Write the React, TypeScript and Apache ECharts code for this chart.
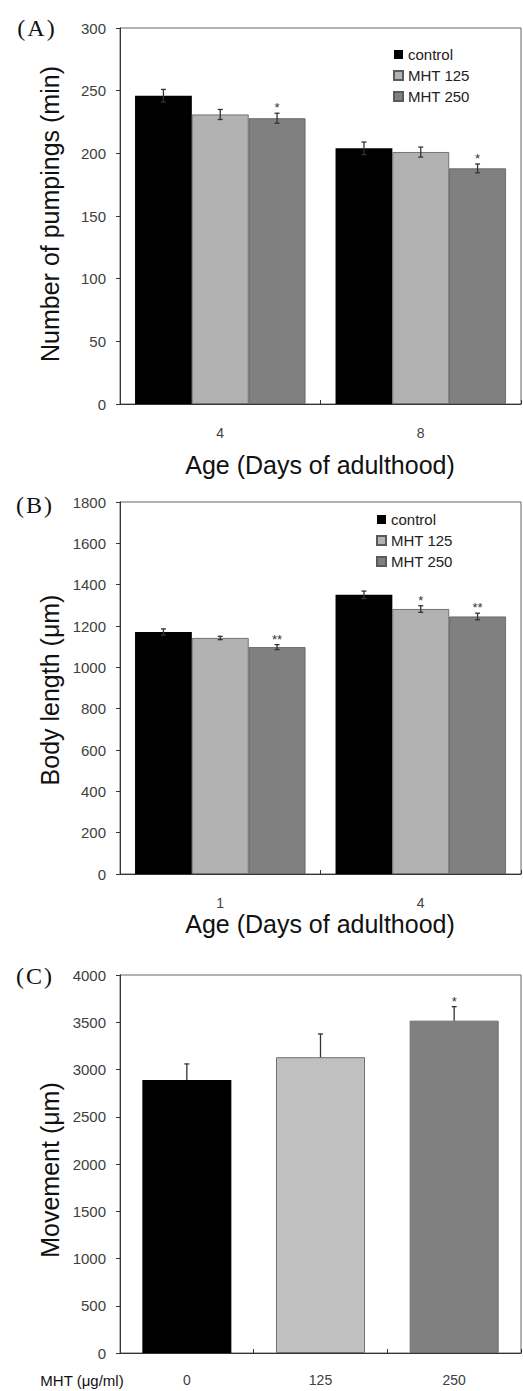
import React, { useEffect, useRef } from "react";
import * as echarts from "echarts";

// ---------- Data ----------
const agesA = ["4", "8"];
const pumpControl = [246, 204];
const pump125 = [231, 201];
const pump250 = [228, 188];
const pumpErrControl = [5, 5];
const pumpErr125 = [4, 4];
const pumpErr250 = [4, 3.5];
const pumpStarsControl = ["", ""];
const pumpStars125 = ["", ""];
const pumpStars250 = ["*", "*"];

const agesB = ["1", "4"];
const lenControl = [1171, 1351];
const len125 = [1142, 1282];
const len250 = [1098, 1246];
const lenErrControl = [15, 18];
const lenErr125 = [8, 16];
const lenErr250 = [12, 16];
const lenStarsControl = ["", ""];
const lenStars125 = ["", "*"];
const lenStars250 = ["**", "**"];

const doses = ["0", "125", "250"];
const movement = [2890, 3130, 3517];
const movementErr = [169, 246, 148];
const movementStars = ["", "", "*"];

const groupNames = ["control", "MHT 125", "MHT 250"];
const groupColorsAB = ["#000000", "#b2b2b2", "#808080"];
const groupColorsC = ["#000000", "#c0c0c0", "#808080"];

const yTicksA = { min: 0, max: 300, interval: 50 };
const yTicksB = { min: 0, max: 1800, interval: 200 };
const yTicksC = { min: 0, max: 4000, interval: 500 };

const FONT = "'Liberation Sans', Arial, Helvetica, sans-serif";
const SERIF = "'Liberation Serif', 'Times New Roman', serif";

function errorSeries(
  gridIdx: number,
  values: number[],
  errs: number[],
  stars: string[],
  k: number,
  n: number,
  gapFrac: number,
  both: boolean
) {
  return {
    type: "custom",
    xAxisIndex: gridIdx,
    yAxisIndex: gridIdx,
    z: 5,
    silent: true,
    data: values.map((v, i) => [i, v, errs[i]]),
    renderItem: (params: any, api: any) => {
      const i = api.value(0);
      const v = api.value(1);
      const e = api.value(2);
      const band = api.size([1, 0])[0];
      const barW = (band * (1 - gapFrac)) / n;
      const x = api.coord([i, v])[0] + (k - (n - 1) / 2) * barW;
      const yTop = api.coord([i, v + e])[1];
      const yBot = both ? api.coord([i, v - e])[1] : api.coord([i, v])[1];
      const cap = 2.5;
      const st = { stroke: "#333", lineWidth: 1.3 };
      const children: any[] = [
        { type: "line", shape: { x1: x, y1: yTop, x2: x, y2: yBot }, style: st },
        { type: "line", shape: { x1: x - cap, y1: yTop, x2: x + cap, y2: yTop }, style: st },
      ];
      if (both) {
        children.push({ type: "line", shape: { x1: x - cap, y1: yBot, x2: x + cap, y2: yBot }, style: st });
      }
      const s = stars[params.dataIndex];
      if (s) {
        children.push({
          type: "text",
          style: {
            x,
            y: yTop + 1,
            text: s,
            fill: "#333",
            font: `13px ${FONT}`,
            textAlign: "center",
            textVerticalAlign: "bottom",
          },
        });
      }
      return { type: "group", children };
    },
  };
}

function yAxis(gridIdx: number, t: { min: number; max: number; interval: number }) {
  return {
    type: "value",
    gridIndex: gridIdx,
    min: t.min,
    max: t.max,
    interval: t.interval,
    axisLine: { show: true, lineStyle: { color: "#333", width: 1 } },
    axisTick: { show: true, length: 4, lineStyle: { color: "#333" } },
    axisLabel: {
      color: "#404040",
      fontSize: 15,
      fontFamily: FONT,
      margin: 14,
      formatter: (v: number) => String(v),
    },
    splitLine: { show: false },
  };
}

function xAxis(gridIdx: number, cats: string[], margin: number) {
  return {
    type: "category",
    gridIndex: gridIdx,
    data: cats,
    axisLine: { show: true, lineStyle: { color: "#333", width: 1 } },
    axisTick: { show: true, inside: true, length: 4, lineStyle: { color: "#333" } },
    axisLabel: { color: "#404040", fontSize: 14, fontFamily: FONT, margin },
    splitLine: { show: false },
  };
}

function barSeries(gridIdx: number, name: string, data: number[], color: string, border: boolean) {
  return {
    type: "bar",
    name,
    xAxisIndex: gridIdx,
    yAxisIndex: gridIdx,
    data,
    barGap: "0%",
    barCategoryGap: "15%",
    itemStyle: border
      ? { color, borderColor: "#5a5a5a", borderWidth: 0.8 }
      : { color },
  };
}

function text(x: number, y: number, t: string, size: number, family: string, rotation = 0) {
  return {
    type: "text",
    x,
    y,
    rotation,
    style: {
      text: t,
      fill: "#111",
      font: `${size}px ${family}`,
      textAlign: "center",
      textVerticalAlign: "middle",
    },
  };
}

export default function App() {
  const ref = useRef<HTMLDivElement>(null);
  useEffect(() => {
    if (!ref.current) return;
    const chart = echarts.init(ref.current, undefined, { renderer: "svg" });
    const gridBase = { show: true, borderColor: "#666", borderWidth: 1, backgroundColor: "transparent", containLabel: false };
    const option: any = {
      animation: false,
      backgroundColor: "#ffffff",
      textStyle: { fontFamily: FONT },
      grid: [
        { ...gridBase, left: 120, top: 28, width: 401, height: 376 },
        { ...gridBase, left: 120, top: 502, width: 401, height: 372 },
        { ...gridBase, left: 120, top: 975, width: 401, height: 378 },
      ],
      xAxis: [xAxis(0, agesA, 22), xAxis(1, agesB, 22), xAxis(2, doses, 20)],
      yAxis: [yAxis(0, yTicksA), yAxis(1, yTicksB), yAxis(2, yTicksC)],
      legend: [
        {
          data: groupNames,
          orient: "vertical",
          left: 388,
          top: 42,
          itemWidth: 9,
          itemHeight: 9,
          itemGap: 6,
          icon: "rect",
          selectedMode: false,
          textStyle: { fontSize: 15, fontFamily: FONT, color: "#222" },
        },
        {
          data: groupNames,
          orient: "vertical",
          left: 371,
          top: 507,
          itemWidth: 9,
          itemHeight: 9,
          itemGap: 6,
          icon: "rect",
          selectedMode: false,
          textStyle: { fontSize: 15, fontFamily: FONT, color: "#222" },
        },
      ],
      series: [
        barSeries(0, groupNames[0], pumpControl, groupColorsAB[0], false),
        barSeries(0, groupNames[1], pump125, groupColorsAB[1], true),
        barSeries(0, groupNames[2], pump250, groupColorsAB[2], true),
        errorSeries(0, pumpControl, pumpErrControl, pumpStarsControl, 0, 3, 0.15, true),
        errorSeries(0, pump125, pumpErr125, pumpStars125, 1, 3, 0.15, true),
        errorSeries(0, pump250, pumpErr250, pumpStars250, 2, 3, 0.15, true),

        barSeries(1, groupNames[0], lenControl, groupColorsAB[0], false),
        barSeries(1, groupNames[1], len125, groupColorsAB[1], true),
        barSeries(1, groupNames[2], len250, groupColorsAB[2], true),
        errorSeries(1, lenControl, lenErrControl, lenStarsControl, 0, 3, 0.15, true),
        errorSeries(1, len125, lenErr125, lenStars125, 1, 3, 0.15, true),
        errorSeries(1, len250, lenErr250, lenStars250, 2, 3, 0.15, true),

        {
          type: "bar",
          name: "Movement",
          xAxisIndex: 2,
          yAxisIndex: 2,
          barWidth: "66.6%",
          data: movement.map((v, i) => ({
            value: v,
            itemStyle: { color: groupColorsC[i], borderColor: "#707070", borderWidth: i === 0 ? 0 : 1 },
          })),
        },
        errorSeries(2, movement, movementErr, movementStars, 0, 1, 0.334, false),
      ],
      graphic: [
        text(36, 28, "(\u200AA\u200A)", 24, SERIF),
        text(34, 505, "(\u200AB\u200A)", 24, SERIF),
        text(34, 976, "(\u200AC\u200A)", 24, SERIF),
        text(50, 214, "Number of pumpings (min)", 25, FONT, Math.PI / 2),
        text(50, 690, "Body length (\u03bcm)", 25, FONT, Math.PI / 2),
        text(50, 1170, "Movement (\u03bcm)", 25, FONT, Math.PI / 2),
        text(320, 465, "Age (Days of adulthood)", 25, FONT),
        text(320, 924, "Age (Days of adulthood)", 25, FONT),
        text(82, 1380, "MHT (\u03bcg/ml)", 15, FONT),
      ],
    };
    chart.setOption(option);
    return () => chart.dispose();
  }, []);
  return (
    <div
      ref={ref}
      style={{ position: "absolute", left: 0, top: 0, width: 523, height: 1391, background: "#fff" }}
    />
  );
}
